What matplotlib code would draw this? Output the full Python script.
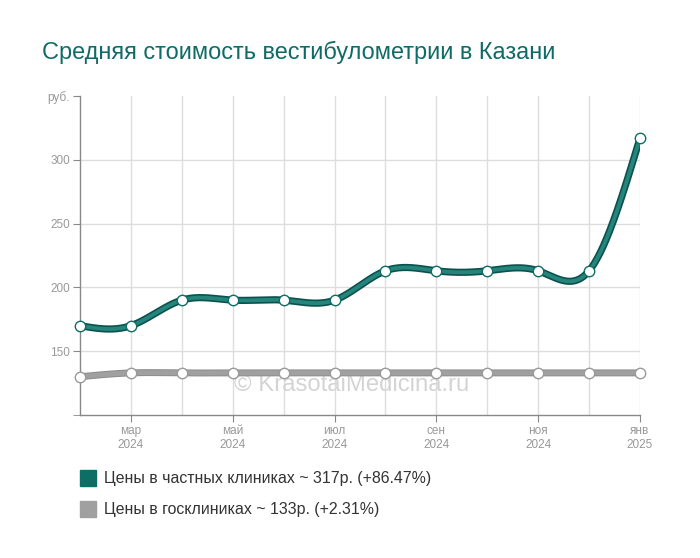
import numpy as np
import matplotlib
matplotlib.use("Agg")
import matplotlib.pyplot as plt
from matplotlib.lines import Line2D

plt.rcParams['font.family'] = ['Liberation Sans', 'DejaVu Sans']

months = ['фев\n2024', 'мар\n2024', 'апр\n2024', 'май\n2024', 'июн\n2024', 'июл\n2024',
          'авг\n2024', 'сен\n2024', 'окт\n2024', 'ноя\n2024', 'дек\n2024', 'янв\n2025']
private = [170, 170, 190, 190, 190, 190, 213, 213, 213, 213, 213, 317]
public = [130, 133, 133, 133, 133, 133, 133, 133, 133, 133, 133, 133]
labeled = [1, 3, 5, 7, 9, 11]
yticks = [100, 150, 200, 250, 300]
title = 'Средняя стоимость вестибулометрии в Казани'
legend_labels = ['Цены в частных клиниках ~ 317р. (+86.47%)', 'Цены в госклиниках ~ 133р. (+2.31%)']

teal = '#0d6e66'
teal_dark = '#0a524c'
teal_light = '#25847c'
gray = '#a0a0a0'


def natural_spline(x, y, n=400):
    x = np.asarray(x, float); y = np.asarray(y, float)
    m = len(x); h = np.diff(x)
    A = np.zeros((m, m)); b = np.zeros(m)
    A[0, 0] = 1; A[-1, -1] = 1
    for i in range(1, m - 1):
        A[i, i - 1] = h[i - 1]; A[i, i] = 2 * (h[i - 1] + h[i]); A[i, i + 1] = h[i]
        b[i] = 6 * ((y[i + 1] - y[i]) / h[i] - (y[i] - y[i - 1]) / h[i - 1])
    M = np.linalg.solve(A, b)
    xs = np.linspace(x[0], x[-1], n)
    idx = np.clip(np.searchsorted(x, xs) - 1, 0, m - 2)
    x0 = x[idx]; x1 = x[idx + 1]; hh = x1 - x0
    t0 = x1 - xs; t1 = xs - x0
    ys = (M[idx] * t0**3 + M[idx + 1] * t1**3) / (6 * hh) \
        + (y[idx] / hh - M[idx] * hh / 6) * t0 + (y[idx + 1] / hh - M[idx + 1] * hh / 6) * t1
    return xs, ys


fig = plt.figure(figsize=(7, 5.58), dpi=100)
ax = fig.add_axes([80 / 700, 143 / 558, 560 / 700, 319 / 558])
x = np.arange(len(months))

ax.set_xlim(0, 11)
ax.set_ylim(100, 350)

for v in yticks[1:]:
    ax.axhline(v, color='#dddddd', lw=1, zorder=0)
for i in x[1:]:
    ax.axvline(i, color='#dddddd', lw=1, zorder=0)

ax.text(0.485, 0.095, '© KrasotaiMedicina.ru', transform=ax.transAxes, ha='center', va='center',
        fontsize=17.2, color='#d4d4d4', zorder=1)

xs, ys = natural_spline(x, public)
ax.plot(xs, ys, color='#8e8e8e', lw=5, solid_capstyle='round', zorder=2)
ax.plot(xs, ys, color=gray, lw=3.5, solid_capstyle='round', zorder=2)
ax.plot(x, public, 'o', ms=7.5, mfc='white', mec='#9a9a9a', mew=1, zorder=4, clip_on=False)

xs, ys = natural_spline(x, private)
ax.plot(xs, ys, color=teal_dark, lw=5.2, solid_capstyle='round', zorder=3)
ax.plot(xs, ys, color=teal_light, lw=2.8, solid_capstyle='round', zorder=3)
ax.plot(x, private, 'o', ms=7.5, mfc='white', mec=teal, mew=1, zorder=5, clip_on=False)

for s in ['top', 'right']:
    ax.spines[s].set_visible(False)
for s in ['left', 'bottom']:
    ax.spines[s].set_color('#888888')
    ax.spines[s].set_linewidth(1)

ax.set_yticks(yticks[1:] + [350])
ax.set_yticklabels(['150', '200', '250', '300', 'руб.'])
ax.set_yticks([100], minor=True)
ax.tick_params(axis='y', which='both', length=5, color='#888888', labelcolor='#999999',
               labelsize=8.5, pad=2)
ax.set_xticks(labeled)
ax.set_xticklabels([months[i] for i in labeled])
ax.tick_params(axis='x', length=5, color='#888888', labelcolor='#999999', labelsize=8.5, pad=2)

fig.text(42 / 700, 1 - 52 / 558, title, fontsize=16.9, color='#0e6b66', va='center', ha='left')

handles = [Line2D([], [], marker='s', ls='', ms=11, mfc=teal, mec=teal),
           Line2D([], [], marker='s', ls='', ms=11, mfc=gray, mec=gray)]
fig.legend(handles, legend_labels, loc='upper left', bbox_to_anchor=(66 / 700, 1 - 457 / 558),
           frameon=False, fontsize=11.4, labelcolor='#333333', handlelength=1.0,
           handletextpad=0.5, labelspacing=1.0)

fig.savefig('out.png', dpi=100)
